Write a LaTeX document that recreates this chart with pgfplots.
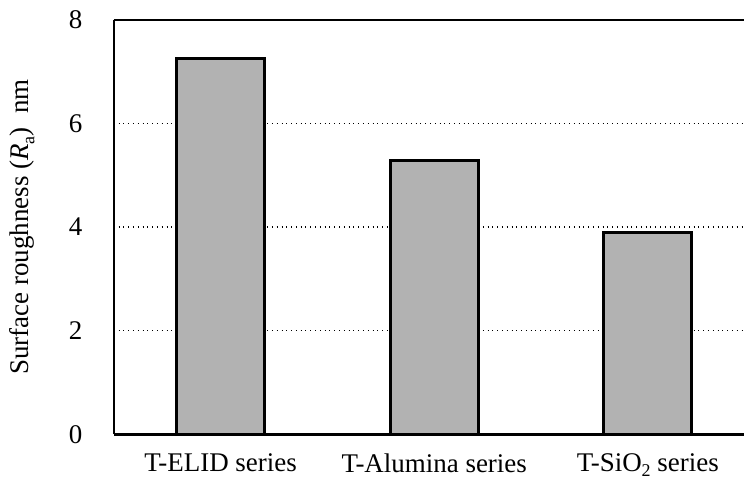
\documentclass[border=0pt]{standalone}
\usepackage{fontspec}
\setmainfont{Liberation Serif}
\usepackage{pgfplots}
\pgfplotsset{compat=1.18}
\newcommand{\lsub}[1]{\raisebox{-0.45ex}{\fontsize{9}{10}\selectfont #1}}
\begin{document}
\fontsize{13.5}{15}\selectfont
\begin{tikzpicture}
\begin{axis}[
  scale only axis,
  width=315.5pt, height=207.5pt,
  xmin=-0.5, xmax=2.449,
  ymin=0, ymax=8,
  ytick={0,2,4,6,8},
  xtick={0,1,2},
  xticklabels={T-ELID series, T-Alumina series, T-SiO\lsub{2} series},
  /pgf/number format/assume math mode=true,
  tick label style={font=\fontsize{13.5}{15}\selectfont},
  label style={font=\fontsize{13.5}{15}\selectfont},
  major tick style={draw=none},
  ymajorgrids,
  major grid style={dotted, black, line width=0.6pt},
  axis y line*=left,
  axis line style={-, line width=1.3pt},
  yticklabel style={xshift=-11pt},
  xticklabel style={yshift=-5pt},
  ylabel={Surface roughness (\textit{R}\lsub{a})~~nm},
  ylabel style={yshift=8pt},
  clip=true,
]
\addplot[ybar, bar width=44pt, fill=black!30, draw=black, line width=1.4pt]
  coordinates {(0,7.25) (1,5.29) (2,3.90)};
\end{axis}
\path (current axis.north west) ++(-57pt,10pt);
\path (current axis.south west) ++(-57pt,-29pt);
\end{tikzpicture}
\end{document}
